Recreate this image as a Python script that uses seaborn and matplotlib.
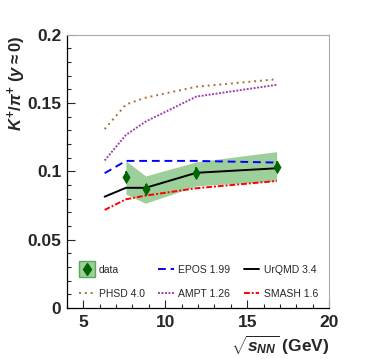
#K+/pi+ ratio vs collision energy, data vs models
import numpy as np
import pandas as pd
import seaborn as sns
from matplotlib import pyplot as plt
from matplotlib.lines import Line2D

#data points
data_x = [7.6, 8.8, 11.9, 16.8]
data_y = [0.096, 0.087, 0.099, 0.1035]
data_err = [0.004, 0.004, 0.004, 0.004]
band_lo = [0.0833, 0.0767, 0.0894, 0.093]
band_hi = [0.1077, 0.0967, 0.107, 0.1145]

#model curves
model_x = [6.3, 7.6, 8.8, 11.9, 16.8]
epos = [0.0987, 0.1077, 0.1077, 0.1077, 0.1065]
urqmd = [0.0815, 0.088, 0.088, 0.099, 0.1023]
phsd = [0.131, 0.149, 0.154, 0.162, 0.1675]
ampt = [0.108, 0.1267, 0.1365, 0.1548, 0.1634]
smash = [0.0718, 0.0796, 0.0823, 0.0877, 0.093]

sns.set_style("ticks")
plt.rcParams['font.family'] = ['Liberation Sans', 'DejaVu Sans']
plt.rcParams['mathtext.fontset'] = 'custom'
plt.rcParams['mathtext.rm'] = 'Liberation Sans:bold'
plt.rcParams['mathtext.it'] = 'Liberation Sans:bold:italic'
plt.rcParams['mathtext.bf'] = 'Liberation Sans:bold'

fig = plt.figure(figsize=(3.74, 3.59), dpi=100)
ax = fig.add_axes([0.179, 0.142, 0.701, 0.761])

#systematic band
ax.fill_between(data_x, band_lo, band_hi, color='#9dcf9b', lw=0, zorder=1)

models = [
    ('EPOS 1.99', epos, '#0000ff', (0, (4, 2.5))),
    ('UrQMD 3.4', urqmd, 'black', '-'),
    ('PHSD 4.0', phsd, '#a8703c', (0, (1, 2))),
    ('AMPT 1.26', ampt, '#a040b0', (0, (1, 0.8))),
    ('SMASH 1.6', smash, '#ff0000', (0, (3, 1, 1, 1))),
]
handles = {}
for name, vals, col, ls in models:
    df = pd.DataFrame({'x': model_x, 'y': vals})
    sns.lineplot(data=df, x='x', y='y', color=col, lw=1.4, ax=ax, zorder=3)
    ax.lines[-1].set_linestyle(ls)
    handles[name] = Line2D([], [], color=col, lw=1.4, linestyle=ls)

ax.errorbar(data_x, data_y, yerr=data_err, fmt='none', ecolor='#006400', elinewidth=1.2, zorder=4)
sns.scatterplot(x=data_x, y=data_y, marker='d', s=38, color='#006400', edgecolor='#006400', ax=ax, zorder=5)

ax.set_xlim(4, 20)
ax.set_ylim(0, 0.2)
ax.set_xticks([5, 10, 15, 20])
ax.set_xticks(np.arange(4, 21, 1), minor=True)
ax.set_yticks([0, 0.05, 0.1, 0.15, 0.2])
ax.set_yticklabels(['0', '0.05', '0.1', '0.15', '0.2'])
ax.set_yticks(np.arange(0, 0.201, 0.01), minor=True)
ax.tick_params(which='both', direction='in', labelsize=12.5, top=False, right=False)
ax.tick_params(which='major', length=6, width=0.8)
ax.tick_params(which='minor', length=3, width=0.8)
for lab in ax.get_xticklabels() + ax.get_yticklabels():
    lab.set_fontweight('bold')
ax.tick_params(axis='x', pad=5)
ax.tick_params(axis='y', pad=4)

for s in ['top', 'right']:
    ax.spines[s].set_color('#aaaaaa')
for s in ['left', 'bottom']:
    ax.spines[s].set_color('black')
    ax.spines[s].set_linewidth(0.9)

ax.set_xlabel(r'$\sqrt{s_{NN}}$ (GeV)', loc='right', fontsize=12.5, fontweight='bold', labelpad=3)
ax.set_ylabel(r'$K^{+}/\pi^{+}$ ($y\approx 0$)', loc='top', fontsize=12, fontweight='bold')
ax.yaxis.set_label_coords(-0.15, 0.995)

#legend: square green box with the data diamond on top
data_h = (Line2D([], [], marker='s', markersize=11, markerfacecolor='#9dcf9b',
                 markeredgecolor='#5aa85a', ls='none'),
          Line2D([], [], marker='d', color='#006400', ls='none', markersize=6))
leg_h = [data_h, handles['PHSD 4.0'], handles['EPOS 1.99'], handles['AMPT 1.26'],
         handles['UrQMD 3.4'], handles['SMASH 1.6']]
leg_l = ['data', 'PHSD 4.0', 'EPOS 1.99', 'AMPT 1.26', 'UrQMD 3.4', 'SMASH 1.6']
leg = ax.legend(leg_h, leg_l, ncol=3, loc='lower left', bbox_to_anchor=(0.01, 0.0),
                frameon=False, fontsize=7.5, handlelength=1.5, handletextpad=0.4,
                columnspacing=1.3, labelspacing=1.35)

plt.savefig('out.png', dpi=100)
